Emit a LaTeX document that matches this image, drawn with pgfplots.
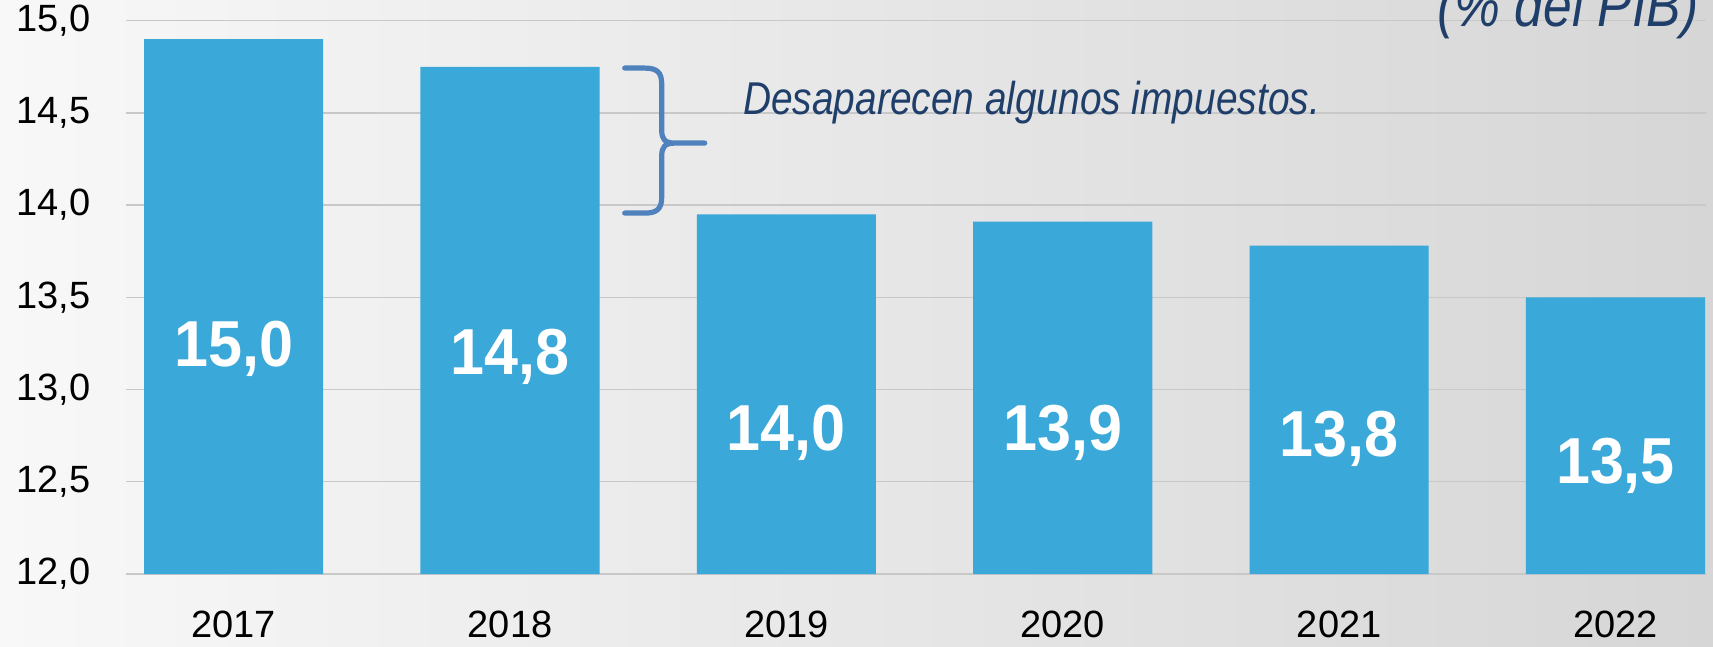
\documentclass[border=0pt]{standalone}
\usepackage{pgfplots}
\pgfplotsset{compat=1.18}
\usepackage{fontspec}
\setmainfont{Liberation Sans}
\definecolor{barblue}{RGB}{58,168,216}
\definecolor{navy}{RGB}{31,63,106}
\definecolor{bracecol}{RGB}{79,129,189}
\definecolor{gridgray}{RGB}{200,200,200}
\definecolor{bgA}{RGB}{248,248,248}
\definecolor{bgB}{RGB}{238,238,238}
\definecolor{bgC}{RGB}{214,214,214}
\begin{document}
\begin{tikzpicture}
\shade[left color=bgA, middle color=bgB, right color=bgC] (-62.8pt,-36.5pt) rectangle (793.7pt,287pt);
\begin{axis}[
  at={(0,0)}, anchor=south west,
  scale only axis, width=790pt, height=276.65pt,
  xmin=-0.391, xmax=5.326, ymin=12, ymax=15,
  ytick={12,12.5,13,13.5,14,14.5,15},
  ymajorgrids, grid style={gridgray, line width=0.7pt},
  axis line style={draw=none},
  major tick length=0pt,
  xtick={0,1,2,3,4,5},
  xticklabels={2017,2018,2019,2020,2021,2022},
  tick label style={font=\fontsize{19}{19}\selectfont, text=black},
  xticklabel style={yshift=-15pt},
  yticklabel style={xshift=-14pt, /pgf/number format/.cd, fixed, fixed zerofill, precision=1, use comma, assume math mode=true},
  clip mode=individual,
]
\addplot[ybar, bar width=0.648, fill=barblue, draw=none] coordinates {
  (0,14.90) (1,14.75) (2,13.95) (3,13.91) (4,13.78) (5,13.50)
};
\addplot[draw=none, mark=none, nodes near coords, point meta=explicit symbolic,
  nodes near coords style={anchor=base, inner sep=0pt, text=white, font=\fontsize{32.5}{32.5}\selectfont\bfseries, xscale=0.94}]
  coordinates {
  (0,13.124) [15{,}0]
  (1,13.079) [14{,}8]
  (2,12.672) [14{,}0]
  (3,12.672) [13{,}9]
  (4,12.636) [13{,}8]
  (5,12.491) [13{,}5]
};
\draw[bracecol, line width=2.6pt, line cap=round, line join=round, shift={(axis cs:1.415,14.743)}]
  (0pt,0pt) -- (10pt,0pt) .. controls (16pt,0pt) and (18.5pt,-2pt) .. (18.5pt,-8pt)
  -- (18.5pt,-31pt) .. controls (18.5pt,-35.5pt) and (20pt,-37.5pt) .. (25pt,-37.5pt) -- (40pt,-37.5pt)
  (25pt,-37.5pt) .. controls (20pt,-37.5pt) and (18.5pt,-39.5pt) .. (18.5pt,-44pt)
  -- (18.5pt,-64.5pt) .. controls (18.5pt,-70.5pt) and (16pt,-72.5pt) .. (10pt,-72.5pt) -- (0pt,-72.5pt);
\node[anchor=base west, inner sep=0pt, text=navy, font=\fontsize{23}{23}\selectfont\itshape]
  at (axis cs:1.842,14.49) {\scalebox{0.845}[1]{Desaparecen algunos impuestos.}};
\node[anchor=base east, inner sep=0pt, text=navy, font=\fontsize{30}{30}\selectfont\itshape]
  at (axis cs:5.301,14.967) {\scalebox{0.86}[1]{(\% del PIB)}};
\end{axis}
\pgfresetboundingbox
\path[use as bounding box] (-62.8pt,-36.5pt) rectangle (793.7pt,287pt);
\end{tikzpicture}
\end{document}
